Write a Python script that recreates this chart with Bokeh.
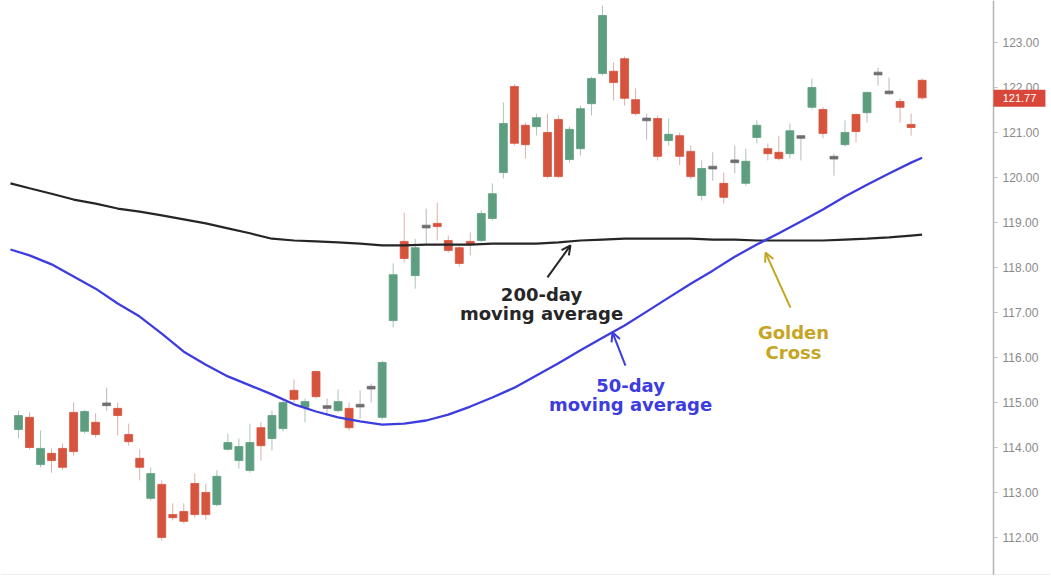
from bokeh.plotting import figure
from bokeh.models import (Range1d, FixedTicker, PrintfTickFormatter, Label, Arrow, OpenHead,
                          ColumnDataSource, LinearAxis, Span, BoxAnnotation)
from bokeh.core.properties import value
from bokeh.embed import file_html
from bokeh.resources import INLINE

# ---------------- data ----------------
opens = [114.40, 114.67, 113.62, 113.87, 113.98, 114.78, 114.36, 114.56, 114.96, 114.87,
         114.29, 113.76, 112.87, 113.18, 112.51, 112.58, 113.20, 113.00, 112.73, 113.96,
         113.71, 113.49, 114.44, 114.20, 114.42, 115.27, 114.89, 115.69, 114.90, 114.82,
         114.87, 114.93, 115.33, 114.67, 116.82, 118.58, 117.82, 118.91, 118.98, 118.60,
         118.44, 118.58, 118.60, 119.09, 120.11, 122.02, 121.16, 121.13, 121.00, 121.29,
         120.40, 120.64, 121.64, 122.31, 122.36, 122.64, 121.73, 121.29, 121.31, 120.82,
         120.93, 120.58, 119.60, 120.22, 119.87, 120.36, 119.87, 120.89, 120.64, 120.56,
         120.53, 120.90, 121.56, 121.51, 120.44, 120.73, 121.40, 121.44, 122.31, 121.89,
         121.69, 121.18, 122.16]
closes = [114.71, 114.00, 113.98, 113.71, 113.56, 113.91, 114.80, 114.29, 114.96, 114.71,
          114.13, 113.56, 113.42, 112.00, 112.44, 112.36, 112.51, 112.51, 113.36, 114.11,
          114.02, 114.11, 114.04, 114.71, 115.00, 115.07, 115.02, 115.13, 114.90, 115.02,
          114.44, 114.93, 115.33, 115.89, 117.84, 118.20, 118.44, 118.91, 118.91, 118.38,
          118.09, 118.51, 119.20, 119.64, 121.20, 120.76, 120.73, 121.33, 120.02, 120.02,
          121.07, 121.53, 122.20, 123.60, 122.11, 121.76, 121.42, 121.29, 120.47, 120.96,
          120.47, 120.02, 120.20, 120.22, 119.56, 120.36, 120.36, 121.16, 120.53, 120.42,
          121.04, 120.90, 122.00, 120.98, 120.44, 121.00, 121.02, 121.89, 122.31, 121.89,
          121.56, 121.11, 121.77]
highs = [114.82, 114.78, 114.38, 113.98, 114.09, 115.00, 114.84, 114.76, 115.33, 115.00,
         114.53, 113.96, 113.56, 113.27, 112.76, 112.76, 113.42, 113.20, 113.49, 114.31,
         114.20, 114.53, 114.56, 114.82, 115.04, 115.51, 115.09, 115.71, 115.09, 115.29,
         115.00, 115.27, 115.42, 115.93, 118.09, 119.22, 118.64, 119.31, 119.44, 118.71,
         118.49, 118.78, 119.27, 119.87, 121.67, 122.07, 121.22, 121.42, 121.42, 121.38,
         121.13, 121.60, 122.24, 123.82, 122.56, 122.69, 121.98, 121.42, 121.38, 121.31,
         121.00, 120.71, 120.38, 120.56, 120.11, 120.71, 120.64, 121.27, 120.76, 120.93,
         121.20, 120.93, 122.20, 121.56, 120.53, 121.27, 121.42, 121.91, 122.44, 122.22,
         121.76, 121.42, 122.20]
lows = [114.20, 113.96, 113.56, 113.44, 113.50, 113.82, 114.31, 114.22, 114.82, 114.27,
        114.04, 113.27, 112.82, 111.93, 112.38, 112.31, 112.44, 112.40, 112.69, 113.93,
        113.53, 113.44, 113.71, 113.93, 114.36, 115.00, 114.56, 115.09, 114.71, 114.78,
        114.38, 114.64, 115.00, 114.62, 116.67, 118.11, 117.53, 118.53, 118.60, 118.33,
        118.02, 118.27, 118.56, 119.04, 119.98, 120.71, 120.42, 120.93, 119.98, 119.98,
        120.33, 120.49, 121.38, 122.27, 121.71, 121.60, 121.38, 120.84, 120.38, 120.71,
        120.27, 119.96, 119.49, 119.93, 119.42, 120.09, 119.82, 120.76, 120.38, 120.38,
        120.42, 120.38, 121.51, 120.87, 120.04, 120.69, 120.78, 121.22, 122.04, 121.84,
        121.22, 120.93, 121.73]

ma_x = [-0.73, 1, 3, 5, 7, 9, 11, 13, 15, 17, 19, 21, 23, 25, 27, 29, 31, 33, 35, 37,
        39, 41, 43, 45, 47, 49, 51, 53, 55, 57, 59, 61, 63, 65, 67, 69, 71, 73, 75, 77,
        79, 81, 82]
ma200 = [119.87, 119.76, 119.64, 119.51, 119.42, 119.31, 119.24, 119.16, 119.07, 118.98,
         118.87, 118.76, 118.64, 118.60, 118.58, 118.56, 118.53, 118.49, 118.49, 118.51,
         118.51, 118.51, 118.53, 118.53, 118.53, 118.56, 118.60, 118.62, 118.64, 118.64,
         118.64, 118.64, 118.62, 118.62, 118.60, 118.60, 118.60, 118.60, 118.62, 118.64,
         118.67, 118.71, 118.73]
ma50 = [118.40, 118.27, 118.07, 117.80, 117.53, 117.20, 116.91, 116.53, 116.13, 115.84,
        115.58, 115.38, 115.18, 114.96, 114.80, 114.67, 114.58, 114.51, 114.53, 114.60,
        114.73, 114.91, 115.11, 115.33, 115.60, 115.87, 116.16, 116.44, 116.71, 117.02,
        117.33, 117.64, 117.93, 118.24, 118.51, 118.76, 119.02, 119.29, 119.58, 119.84,
        120.09, 120.33, 120.44]

y_ticks = [112, 113, 114, 115, 116, 117, 118, 119, 120, 121, 122, 123]
last_price = 121.77

ann_texts = ["200-day", "moving average", "50-day", "moving average", "Golden", "Cross"]
ann_x = [47.46, 47.46, 55.54, 55.54, 70.33, 70.33]
ann_y = [117.40, 116.98, 115.38, 114.96, 116.56, 116.11]

# ---------------- styles ----------------
GREEN = "#5e9e80"
RED = "#d6533d"
DOJI = "#6f6f6f"
BLACK = "#262626"
BLUE = "#3d3ddf"
GOLD = "#c6a524"
TAG = "#d9473b"

X0, X1 = -1.633, 93.65
Y0, Y1 = 111.156, 123.933
AXIS_X = 88.48
TAG_RIGHT = 93.19

n = len(opens)
idx = list(range(n))
body_top, body_bot, fill, wick = [], [], [], []
for o, c in zip(opens, closes):
    if abs(o - c) < 1e-9:
        body_top.append(o + 0.03)
        body_bot.append(o - 0.03)
        fill.append(DOJI)
        wick.append("#b9b9b9")
    elif c > o:
        body_top.append(c)
        body_bot.append(o)
        fill.append(GREEN)
        wick.append("#a9c6b8")
    else:
        body_top.append(o)
        body_bot.append(c)
        fill.append(RED)
        wick.append("#dcb0aa")

src = ColumnDataSource(dict(x=idx, high=highs, low=lows, top=body_top, bottom=body_bot,
                            fill=fill, wick=wick))

p = figure(frame_width=1050, frame_height=575,
           x_range=Range1d(X0, X1), y_range=Range1d(Y0, Y1),
           output_backend="svg", toolbar_location=None,
           x_axis_location=None, y_axis_location=None,
           min_border=0, background_fill_color="white", border_fill_color="white")
p.outline_line_color = None
p.grid.visible = False

ax = LinearAxis(fixed_location=AXIS_X)
ax.ticker = FixedTicker(ticks=y_ticks)
ax.formatter = PrintfTickFormatter(format="%.2f")
ax.axis_line_color = "#b5b5b5"
ax.axis_line_width = 1.5
ax.major_tick_line_color = "#c0c0c0"
ax.major_tick_out = 4
ax.major_tick_in = 0
ax.minor_tick_line_color = None
ax.major_label_text_color = "#8a8a8a"
ax.major_label_text_font = "Liberation Sans"
ax.major_label_text_font_size = "12px"
ax.major_label_standoff = 5
p.add_layout(ax, "right")

p.add_layout(Span(location=Y0 + 0.01, dimension="width", line_color="#d6d6d6", line_width=1))

p.segment(x0="x", y0="high", x1="x", y1="low", source=src, line_color="wick", line_width=1)
p.vbar(x="x", top="top", bottom="bottom", width=0.72, source=src,
       fill_color="fill", line_color="fill", line_width=0.8)

p.line(ma_x, ma200, line_color=BLACK, line_width=2.2)
p.line(ma_x, ma50, line_color=BLUE, line_width=2.3)

colors = [BLACK, BLACK, BLUE, BLUE, GOLD, GOLD]
p.text(x=ann_x, y=ann_y, text=ann_texts, text_color=colors,
       text_font=value("DejaVu Sans"), text_font_style="bold", text_font_size="18px",
       text_align="center", text_baseline="alphabetic")

arrows = [(48.0, 117.78, 50.09, 118.49, BLACK),
          (55.08, 115.82, 53.90, 116.56, BLUE),
          (70.05, 117.11, 67.79, 118.33, GOLD)]
for xs, ys, xe, ye, col in arrows:
    p.add_layout(Arrow(end=OpenHead(size=9, line_width=2, line_color=col),
                       x_start=xs, y_start=ys, x_end=xe, y_end=ye,
                       line_width=2, line_color=col))

# last-price tag on the axis
p.add_layout(BoxAnnotation(left=AXIS_X, right=TAG_RIGHT,
                           bottom=last_price - 0.20, top=last_price + 0.18,
                           fill_color=TAG, fill_alpha=1.0, line_color=None, level="annotation"))
p.add_layout(Label(x=(AXIS_X + TAG_RIGHT) / 2, y=last_price, text=f"{last_price:.2f}",
                   text_baseline="middle", text_align="center", text_color="white",
                   text_font="Liberation Sans", text_font_size="11px"))

open("out.html", "w").write(file_html(p, INLINE))
